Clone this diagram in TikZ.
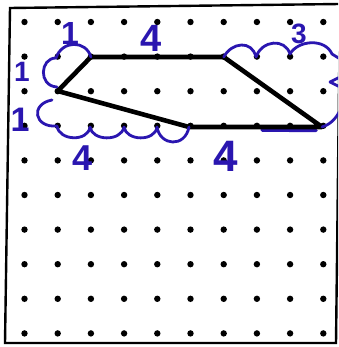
\documentclass[tikz,border=0pt]{standalone}
\usepackage{fontspec}
\setmainfont{Liberation Sans}
\definecolor{pen}{RGB}{42,22,176}
\begin{document}
\begin{tikzpicture}[x=1pt,y=-1pt,
  frame/.style={line width=2.4pt,black},
  griddot/.style={fill=black},
  outline/.style={line width=4.6pt,black,line join=round,line cap=round},
  penline/.style={pen,line width=2.8pt,line cap=round,line join=round},
  lbl/.style={text=pen,inner sep=0pt}]
\useasboundingbox (0,0) rectangle (338,347);
\clip (0,0) rectangle (338,347);
\fill[white] (0,0) rectangle (338,347);
% frame
\draw[frame] (10,8) -- (340,4) -- (336,343) -- (5,343) -- cycle;
% vertices of the shape
\coordinate (A) at (90.9,57);
\coordinate (B) at (223.7,57);
\coordinate (C) at (322,127);
\coordinate (D) at (189,127);
\coordinate (E) at (57.7,91);
% pen marks under the outline
\draw[penline,line width=3.5pt] (262,130) -- (316,130.5);
% outline
\draw[outline] (A) -- (B) -- (C) -- (D) -- (E) -- cycle;
% dots
\foreach \i in {0,...,9}
  \foreach \j in {0,...,9}
    \fill[griddot] ({24.5+33.2*\i},{22+34.6*\j}) circle (3.2pt);
% clouds
\draw[penline] (A) .. controls (86,40) and (62,40) .. (56,58)
   .. controls (40,58) and (38,86) .. (57,87);
\draw[penline] (52,100) .. controls (30,104) and (34,128) .. (57,126)
   .. controls (59,141) and (88,142) .. (90,127)
   .. controls (92,141) and (121,142) .. (124,127)
   .. controls (126,141) and (155,142) .. (157,127)
   .. controls (160,146) and (185,148) .. (D);
\draw[penline] (B) .. controls (232,42) and (252,40) .. (256,57)
   .. controls (262,40) and (285,38) .. (290,54)
   .. controls (298,40) and (325,38) .. (332,54) -- (345,62);
\draw[penline] (342,76) -- (330,82) -- (342,88);
\draw[penline] (C) .. controls (332,124) and (338,116) .. (342,106);
% labels
\node[lbl,font=\bfseries\fontsize{32}{32}\selectfont] (l1) at (70,33) {1};
\node[lbl,font=\bfseries\fontsize{28}{28}\selectfont] (l2) at (22,72) {1};
\node[lbl,font=\bfseries\fontsize{34}{34}\selectfont] (l3) at (20,120) {1};
\node[lbl,font=\bfseries\fontsize{38}{38}\selectfont] (t4) at (151,38) {4};
\node[lbl,font=\bfseries\fontsize{28}{28}\selectfont] (t3) at (299,34) {3};
\node[lbl,font=\bfseries\fontsize{36}{36}\selectfont] (b4) at (83,158) {4};
\node[lbl,font=\bfseries\fontsize{44}{44}\selectfont] (c4) at (226,156) {4};
\end{tikzpicture}
\end{document}
